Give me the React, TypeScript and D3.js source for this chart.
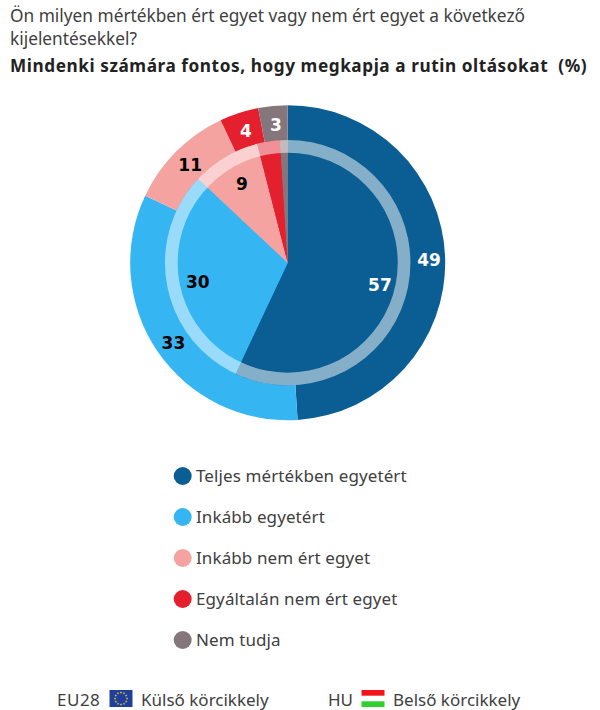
import * as d3 from "d3";

const categories = ["Teljes mértékben egyetért", "Inkább egyetért", "Inkább nem ért egyet", "Egyáltalán nem ért egyet", "Nem tudja"];
const colors = ["#0b5e93", "#35b6f2", "#f4a3a0", "#e4202f", "#85767c"];
const labelColors = ["#fff", "#000", "#000", "#fff", "#fff"];
const outerValues = [49, 33, 11, 4, 3]; // EU28
const innerValues = [57, 30, 9, 3, 1]; // HU
const hiddenInnerLabels = [3, 4]; // too thin, no label in the original
const questionLines = ["Ön milyen mértékben ért egyet vagy nem ért egyet a következő", "kijelentésekkel?"];
const subtitle = "Mindenki számára fontos, hogy megkapja a rutin oltásokat  (%)";

const width = 600;
const height = 710;
const cx = 287.7;
const cy = 262.7;
const rOuter = 157.5;
const rInner = 122.7;
const rRingIn = 110;
const font = "'Noto Sans', sans-serif";
const labelFont = "'DejaVu Sans', sans-serif";

const pie = d3.pie<number>().sort(null);
const arc = d3.arc<d3.PieArcDatum<number>>();

function Slices({ values, r, labelR, hidden = [] }: { values: number[]; r: number; labelR: number; hidden?: number[] }) {
  const arcs = pie(values);
  return (
    <>
      {arcs.map((d, i) => (
        <path key={i} d={arc({ ...d, innerRadius: 0, outerRadius: r } as any) as string} fill={colors[i]} />
      ))}
      {arcs.map((d, i) => {
        if (hidden.includes(i)) return null;
        const [x, y] = arc.centroid({ ...d, innerRadius: labelR, outerRadius: labelR } as any);
        return (
          <text key={i} x={x + 1.5} y={y} dy="0.45em" textAnchor="middle" fontFamily={labelFont} fontWeight={700} fontSize={17} fill={labelColors[i]}>
            {d.value}
          </text>
        );
      })}
    </>
  );
}

// circle of yellow stars on the EU flag
const stars = d3.range(12).map((i) => (i * 2 * Math.PI) / 12);
const starPath = d3.symbol(d3.symbolStar, 2.2)() as string;

export default function App() {
  const ring = d3.arc()({ innerRadius: rRingIn, outerRadius: rInner, startAngle: 0, endAngle: 2 * Math.PI }) as string;
  return (
    <svg width={width} height={height} viewBox={`0 0 ${width} ${height}`} style={{ position: "absolute", left: 0, top: 0, display: "block", background: "#fff" }}>
      {questionLines.map((t, i) => (
        <text key={i} x={10} y={22 + i * 23} fontFamily={font} fontSize={17.3} fill="#404040">
          {t}
        </text>
      ))}
      <text x={10} y={71.5} fontFamily={font} fontWeight={700} fontSize={17.2} letterSpacing={0.57} fill="#222" xmlSpace="preserve">
        {subtitle}
      </text>

      <g transform={`translate(${cx},${cy})`}>
        <Slices values={outerValues} r={rOuter} labelR={140} />
        <Slices values={innerValues} r={rInner} labelR={93} hidden={hiddenInnerLabels} />
        <path d={ring} fill="#fff" fillOpacity={0.5} />
      </g>

      {categories.map((c, i) => (
        <g key={c} transform={`translate(0,${476 + i * 41})`}>
          <circle cx={182.7} cy={0} r={9} fill={colors[i]} />
          <text x={196} y={0} dy="0.36em" fontFamily={font} fontSize={17} letterSpacing={0.1} fill="#404040">
            {c}
          </text>
        </g>
      ))}

      <g fontFamily={font} fontSize={17} fill="#404040">
        <text x={57} y={706} letterSpacing={0.5}>EU28</text>
        <rect x={109.5} y={690} width={23} height={17} fill="#1f3f9c" />
        {stars.map((a, i) => (
          <path key={i} d={starPath} fill="#e3c62a" transform={`translate(${121 + 6 * Math.sin(a)},${698.5 - 6 * Math.cos(a)})`} />
        ))}
        <text x={141} y={706}>Külső körcikkely</text>

        <text x={328} y={706}>HU</text>
        <rect x={361.5} y={690} width={23} height={5.7} fill="#f4141c" />
        <rect x={361.5} y={701.3} width={23} height={5.7} fill="#2fd02f" />
        <text x={393} y={706}>Belső körcikkely</text>
      </g>
    </svg>
  );
}
